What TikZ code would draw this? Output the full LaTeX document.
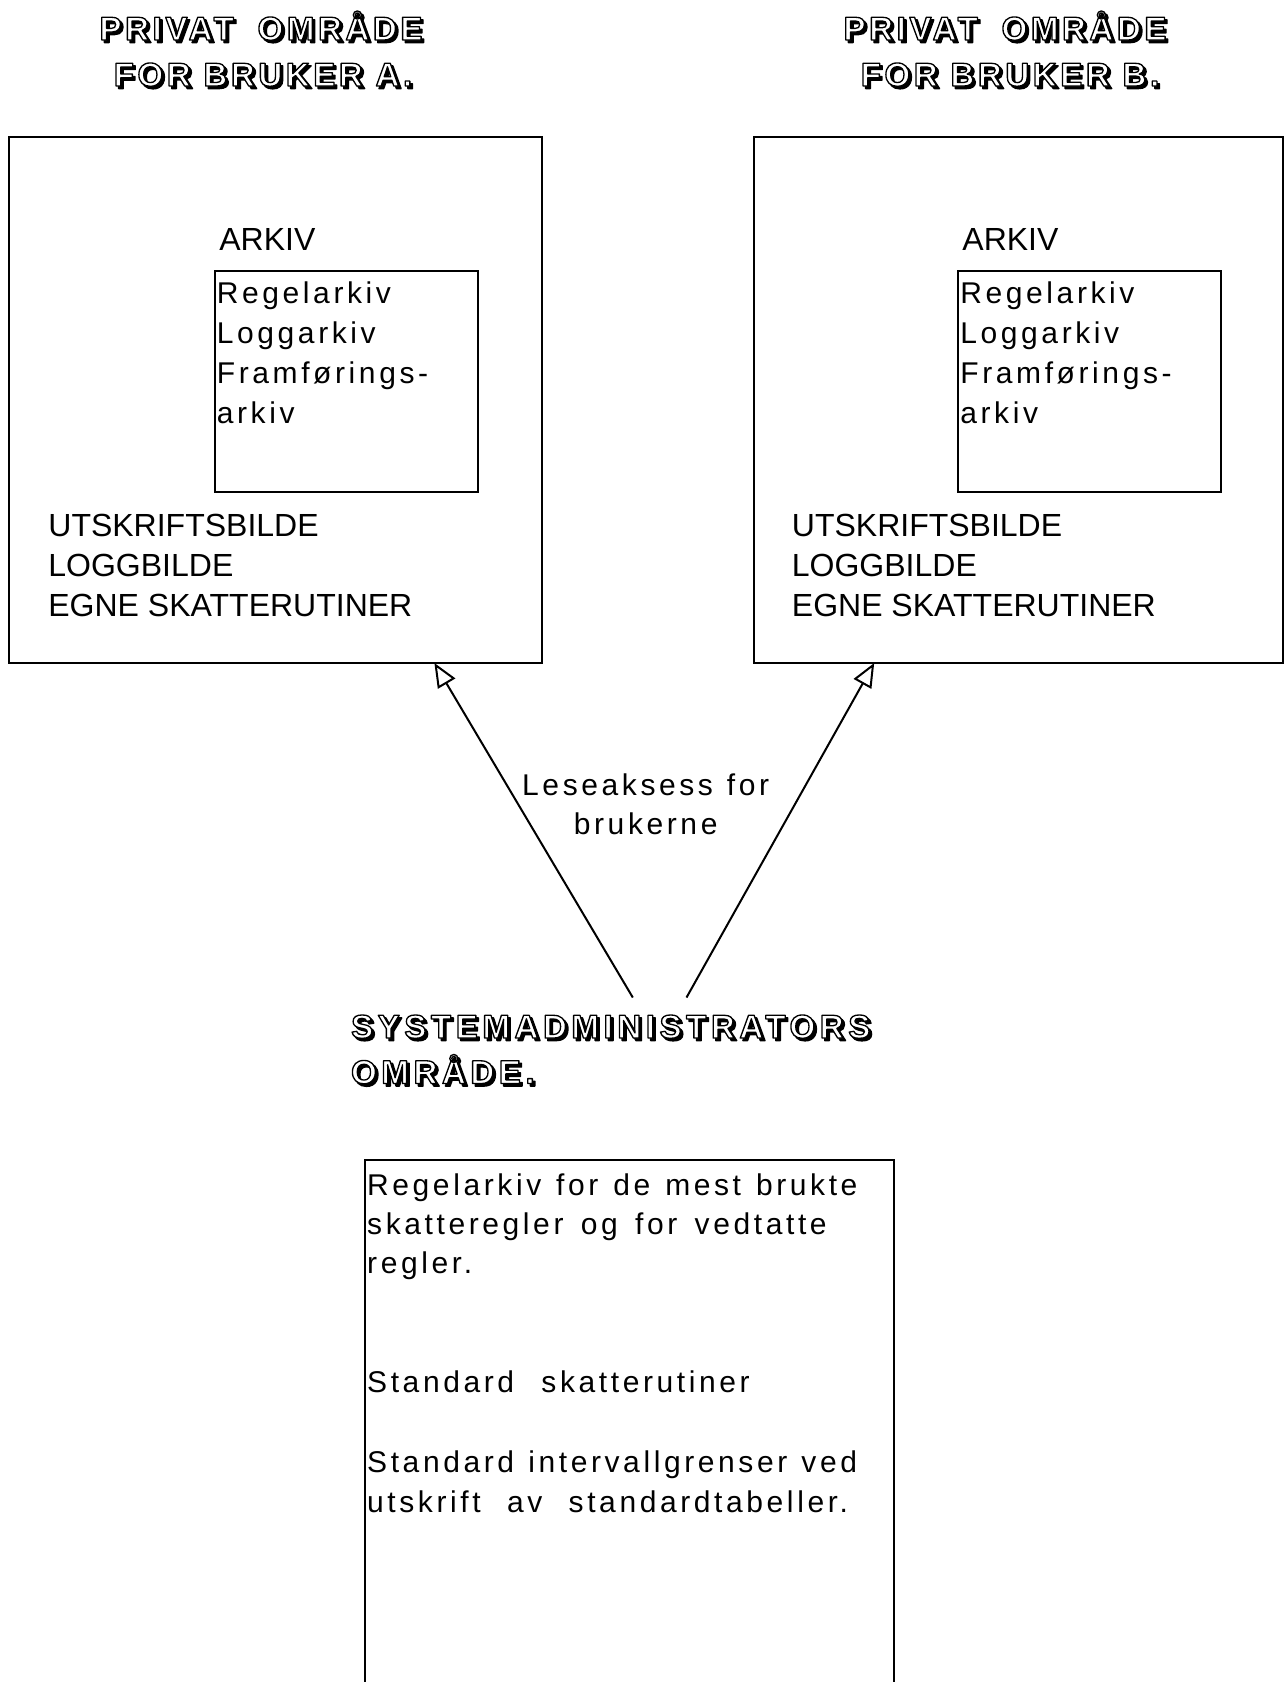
\documentclass[tikz,border=0pt]{standalone}
\usepackage{fontspec}
\setmainfont{Liberation Sans}
\newfontfamily\spacedfont{Liberation Sans}[LetterSpace=12]
\newfontfamily\headfont{Liberation Sans Bold}[LetterSpace=11,FakeBold=4]
\newfontfamily\sysfont{Liberation Sans Bold}[LetterSpace=14,FakeBold=4]
\usetikzlibrary{arrows.meta,fit}

% hollow lettering: white fill, black stroke, with a black drop shadow
\newcommand\hollow[1]{\leavevmode\special{pdf:literal direct 1 j}%
  \rlap{\hspace*{1.3pt}\raisebox{-1.3pt}{\special{pdf:bc [0] [0]}#1\special{pdf:ec}}}%
  \special{pdf:bc [1] [0]}#1\special{pdf:ec}}

\tikzset{
  box/.style={draw, line width=1pt, inner sep=0pt},
  caps/.style={font=\fontsize{16}{19}\selectfont, anchor=base west, inner sep=0pt},
  spaced/.style={font=\spacedfont\fontsize{15}{18}\selectfont, anchor=base west, inner sep=0pt},
  label/.style={font=\spacedfont\fontsize{15}{18}\selectfont, anchor=base, inner sep=0pt},
  head/.style={font=\headfont\fontsize{16.5}{20}\selectfont, anchor=base, inner sep=0pt},
  syshead/.style={font=\sysfont\fontsize{16.5}{20}\selectfont, anchor=base west, inner sep=0pt},
  reads/.style={line width=1pt, -{Triangle[open,length=12pt,width=10pt]}},
}

\begin{document}
\begin{tikzpicture}[x=0.5pt, y=-0.5pt]
\useasboundingbox (0,0) rectangle (1285,1682);

% headings of the two private areas
\node[head] (headA1) at (261,40) {\hollow{PRIVAT\hspace{5.5pt} OMRÅDE}};
\node[head] (headA2) at (263,86) {\hollow{FOR BRUKER A.}};
\node[head] (headB1) at (1005,40) {\hollow{PRIVAT\hspace{5.5pt} OMRÅDE}};
\node[head] (headB2) at (1010,86) {\hollow{FOR BRUKER B.}};

% private area of user A
\node[box, fit={(8.6,137) (541.7,663)}] (boxA) {};
\node[caps] (arkA) at (219,250) {ARKIV};
\node[box, fit={(214.5,271.4) (478.4,492.3)}] (innerA) {};
\foreach \t [count=\i] in {Regelarkiv, Loggarkiv, Framførings-, arkiv}
  \node[spaced, name=inA-\i] at (216.5,263.5+40*\i) {\t};
\foreach \t [count=\i] in {UTSKRIFTSBILDE, LOGGBILDE, EGNE SKATTERUTINER}
  \node[caps, name=capA-\i] at (48,496+40*\i) {\t};

% private area of user B
\node[box, fit={(754,137) (1283,663)}] (boxB) {};
\node[caps] (arkB) at (962,250) {ARKIV};
\node[box, fit={(958,271.4) (1220.6,492.3)}] (innerB) {};
\foreach \t [count=\i] in {Regelarkiv, Loggarkiv, Framførings-, arkiv}
  \node[spaced, name=inB-\i] at (960,263.5+40*\i) {\t};
\foreach \t [count=\i] in {UTSKRIFTSBILDE, LOGGBILDE, EGNE SKATTERUTINER}
  \node[caps, name=capB-\i] at (791.5,496+40*\i) {\t};

% read access arrows
\coordinate (srcA) at (632.8,997.5);
\coordinate (srcB) at (686.5,997.5);
\coordinate (tipA) at (434.4,663);
\coordinate (tipB) at (874.2,663);
\draw[reads] (srcA) -- (tipA);
\draw[reads] (srcB) -- (tipB);
\node[label] (lese1) at (645.7,795) {Leseaksess\hspace{1pt} for};
\node[label] (lese2) at (645.7,834.5) {brukerne};

% system administrator area
\node[syshead] (sys1) at (350.7,1038) {\hollow{SYSTEMADMINISTRATORS}};
\node[syshead] (sys2) at (350.7,1083.5) {\hollow{OMRÅDE.}};
\node[box, fit={(364.7,1159.5) (893.5,1700)}] (sysbox) {};
\foreach \t/\yy [count=\i] in {
    Regelarkiv\hspace{1.5pt} for\hspace{1.5pt} de\hspace{1.5pt} mest\hspace{1.5pt} brukte/1195,
    skatteregler\hspace{2.7pt} og\hspace{2.7pt} for\hspace{2.7pt} vedtatte/1234,
    regler./1273,
    Standard\hspace{7.7pt} skatterutiner/1392,
    Standard\hspace{1.1pt} intervallgrenser\hspace{1.1pt} ved/1472,
    utskrift\hspace{7.2pt} av\hspace{7.2pt} standardtabeller./1512}
  \node[spaced, name=sysln-\i] at (366.8,\yy) {\t};
\end{tikzpicture}
\end{document}
